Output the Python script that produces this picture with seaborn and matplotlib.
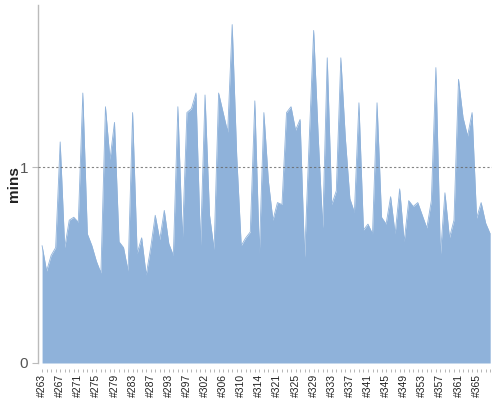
import numpy as np
import pandas as pd
import matplotlib
matplotlib.use("Agg")
import matplotlib.pyplot as plt
import seaborn as sns

# build duration in minutes, one value per build (100 builds)
mins = [0.60, 0.47, 0.55, 0.59, 1.13, 0.59, 0.73, 0.745, 0.72, 1.38,
        0.66, 0.60, 0.52, 0.46, 1.31, 1.04, 1.23, 0.62, 0.59, 0.47,
        1.28, 0.56, 0.64, 0.45, 0.59, 0.755, 0.63, 0.78, 0.61, 0.55,
        1.31, 0.63, 1.28, 1.30, 1.38, 0.60, 1.37, 0.755, 0.58, 1.38,
        1.28, 1.18, 1.73, 1.06, 0.60, 0.64, 0.67, 1.34, 0.56, 1.28,
        0.93, 0.73, 0.82, 0.81, 1.28, 1.31, 1.19, 1.245, 0.54, 1.13,
        1.70, 1.16, 0.69, 1.56, 0.81, 0.88, 1.56, 1.15, 0.84, 0.77,
        1.33, 0.68, 0.71, 0.66, 1.33, 0.745, 0.71, 0.85, 0.66, 0.89,
        0.62, 0.83, 0.80, 0.82, 0.755, 0.69, 0.83, 1.51, 0.55, 0.87,
        0.64, 0.73, 1.45, 1.255, 1.16, 1.28, 0.74, 0.82, 0.715, 0.66]

# every 4th build is labelled
tick_labels = ["#263", "#267", "#271", "#275", "#279", "#283", "#287", "#293",
               "#297", "#302", "#306", "#310", "#314", "#321", "#325", "#329",
               "#333", "#337", "#341", "#345", "#349", "#353", "#357", "#361",
               "#365"]

df = pd.DataFrame({"idx": np.arange(len(mins)), "mins": mins})

sns.set_style("white")
plt.rcParams["font.family"] = ["Liberation Sans", "DejaVu Sans"]
color = "#8fb2da"

fig = plt.figure(figsize=(5, 4), dpi=100)
ax = fig.add_axes([0.076, 0.0925, 0.908, 0.895])

ax.fill_between(df["idx"], 0, df["mins"], color=color, linewidth=0)
sns.lineplot(data=df, x="idx", y="mins", ax=ax, color=color, linewidth=0.6)

ax.axhline(1, color="#666666", linestyle=(0, (2, 2)), linewidth=0.8, zorder=5, alpha=0.8)

ax.set_xlim(-0.9, 99.4)
ax.set_ylim(0, 1.83)

xt = np.arange(len(mins))
labels = [""] * len(mins)
for k, lab in enumerate(tick_labels):
    labels[k * 4] = lab
ax.set_xticks(xt)
ax.set_xticklabels(labels)
ax.set_yticks([0, 1])
ax.set_yticklabels(["0", "1"])

ax.tick_params(axis="x", length=2.5, width=0.6, color="#aaaaaa", pad=1.5,
               bottom=True, labelrotation=90, labelsize=7.5, labelcolor="#222222")
ax.tick_params(axis="y", length=4, width=0.8, color="#bbbbbb", pad=3, left=True,
               labelsize=11, labelcolor="#555555")

for s in ["top", "right"]:
    ax.spines[s].set_visible(False)
ax.spines["left"].set_color("#bbbbbb")
ax.spines["left"].set_linewidth(1)
ax.spines["bottom"].set_position(("outward", 4))
ax.spines["bottom"].set_color("none")

ax.set_xlabel("")
ax.set_ylabel("mins", fontsize=11, color="#222222", fontweight="bold")
ax.yaxis.set_label_coords(-0.038, 0.5)

fig.savefig("out.png", dpi=100)
